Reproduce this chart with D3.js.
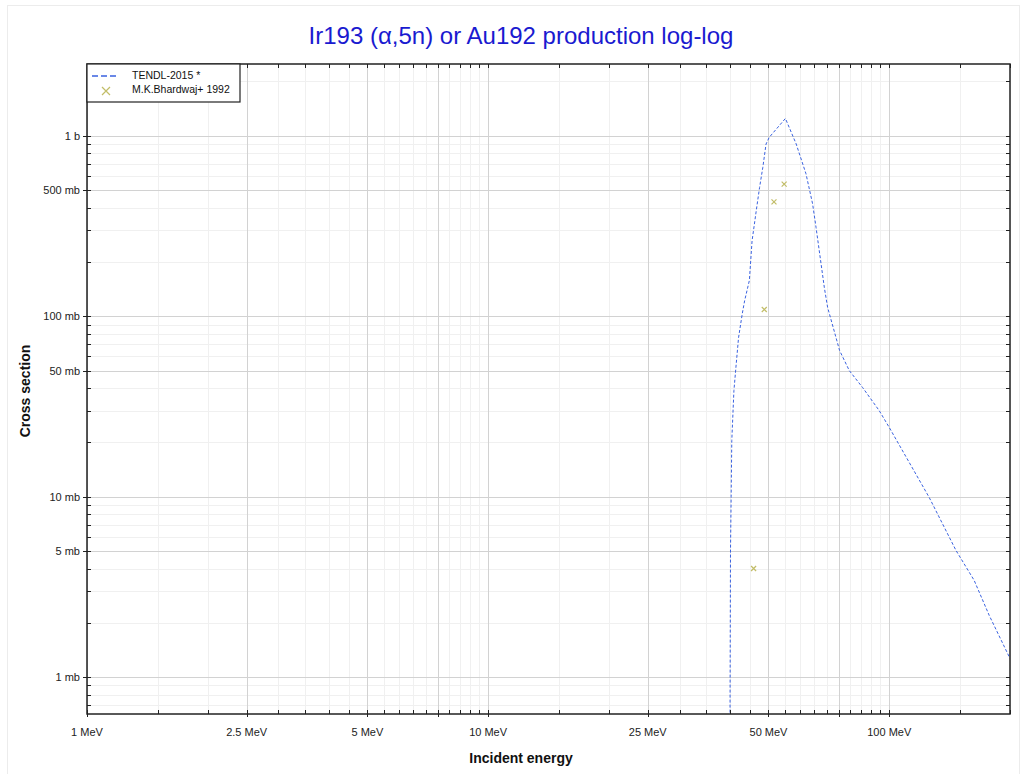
<!DOCTYPE html>
<html><head><meta charset="utf-8">
<script src="https://cdn.jsdelivr.net/npm/d3@7"></script>
<style>body{margin:0;background:#fff;} svg{display:block;font-family:"Liberation Sans",Arial,sans-serif;}</style>
</head><body>
<script>
// ---- data ----
const tendlEnergy = [40.0, 40.2, 40.35, 40.5, 41.0, 41.5, 42.1, 43.0, 43.6, 44.8, 45.5, 46.6, 47.5, 48.4, 49.3, 50.2, 55.1, 58.6, 62.0, 64.4, 65.7, 68.9, 70.2, 75.2, 79.5, 85.8, 94.4, 100, 125.8, 146.6, 162.8, 177.5, 200];
const tendlXs     = [0.1, 5.0, 10, 20.5, 38.8, 53, 76, 103, 122, 158, 262, 384, 517, 669, 900, 980, 1248, 902, 616, 420, 310, 144, 112, 64.6, 50, 40.3, 30, 24.2, 9.9, 5.05, 3.44, 2.2, 1.27];
const expEnergy = [45.9, 48.8, 51.6, 54.7];
const expXs     = [4.0, 109, 430, 540];
const xLabelTicks = [1, 2.5, 5, 10, 25, 50, 100];
const xMajorTicks = [1, 2.5, 5, 7.5, 10, 25, 50, 75, 100];
const yLabelTicks = [1, 5, 10, 50, 100, 500, 1000];
const seriesNames = ["TENDL-2015 *", "M.K.Bhardwaj+ 1992"];

const W = 1024, H = 774;
const L = 87, R = 1010, T = 64, B = 714;
const svg = d3.select("body").append("svg").attr("width", W).attr("height", H);

// outer faint border
svg.append("rect").attr("x", 7.5).attr("y", 5.5).attr("width", 1012).attr("height", 770)
  .attr("fill", "none").attr("stroke", "#ececec");

const x = d3.scaleLog().domain([1, 200]).range([L, R]);
const y = d3.scaleLog().domain([0.625, 2500]).range([B, T]);

// minor tick sets
const xMinor = [].concat(d3.range(1, 10, 0.5), d3.range(10, 100, 5), d3.range(100, 201, 50));
const yMinor = [];
[0.1, 1, 10, 100, 1000].forEach(d => { for (let k = 1; k <= 9; k++) { const v = d * k; if (v >= 0.625 && v <= 2500) yMinor.push(v); } });

// grid
const g = svg.append("g");
g.selectAll(".gxm").data(xMinor).join("line")
  .attr("x1", d => Math.round(x(d)) + 0.5).attr("x2", d => Math.round(x(d)) + 0.5)
  .attr("y1", T).attr("y2", B).attr("stroke", "#f0f0f0");
g.selectAll(".gym").data(yMinor).join("line")
  .attr("y1", d => Math.round(y(d)) + 0.5).attr("y2", d => Math.round(y(d)) + 0.5)
  .attr("x1", L).attr("x2", R).attr("stroke", "#f0f0f0");
g.selectAll(".gxM").data(xMajorTicks).join("line")
  .attr("x1", d => Math.round(x(d)) + 0.5).attr("x2", d => Math.round(x(d)) + 0.5)
  .attr("y1", T).attr("y2", B).attr("stroke", "#d2d2d2");
g.selectAll(".gyM").data(yLabelTicks).join("line")
  .attr("y1", d => Math.round(y(d)) + 0.5).attr("y2", d => Math.round(y(d)) + 0.5)
  .attr("x1", L).attr("x2", R).attr("stroke", "#d2d2d2");

// data
svg.append("defs").append("clipPath").attr("id", "clip")
  .append("rect").attr("x", L).attr("y", T).attr("width", R - L).attr("height", B - T);
const plot = svg.append("g").attr("clip-path", "url(#clip)");
const tendl = tendlEnergy.map((e, i) => [e, tendlXs[i]]);
plot.append("path").datum(tendl)
  .attr("d", d3.line().x(d => x(d[0])).y(d => y(d[1])))
  .attr("fill", "none").attr("stroke", "#3a62e0").attr("stroke-width", 1).attr("stroke-dasharray", "3,2");
const cross = (sel, s) => sel.attr("d", `M${-s},${-s}L${s},${s}M${-s},${s}L${s},${-s}`)
  .attr("stroke", "#c2bd68").attr("stroke-width", 1.2).attr("fill", "none");
plot.selectAll(".pt").data(expEnergy.map((e, i) => [e, expXs[i]])).join("path")
  .attr("transform", d => `translate(${x(d[0])},${y(d[1])})`).call(cross, 2.5);

// axes frame and ticks
const ax = svg.append("g").attr("stroke", "#222");
const isMajX = d => xMajorTicks.some(m => Math.abs(m - d) < 1e-9);
const isMajY = d => yLabelTicks.some(m => Math.abs(m - d) < 1e-9);
xMinor.forEach(d => {
  const px = Math.round(x(d)) + 0.5, maj = isMajX(d);
  ax.append("line").attr("x1", px).attr("x2", px).attr("y1", B + (maj ? 3 : 0)).attr("y2", B - 4);
  ax.append("line").attr("x1", px).attr("x2", px).attr("y1", T).attr("y2", T + 4);
});
yMinor.forEach(d => {
  const py = Math.round(y(d)) + 0.5, maj = isMajY(d);
  ax.append("line").attr("y1", py).attr("y2", py).attr("x1", L - (maj ? 4 : 0)).attr("x2", L + 4);
  ax.append("line").attr("y1", py).attr("y2", py).attr("x1", R).attr("x2", R - 4);
});
svg.append("rect").attr("x", L).attr("y", T).attr("width", R - L).attr("height", B - T)
  .attr("fill", "none").attr("stroke", "#222").attr("stroke-width", 1.5);

// tick labels
svg.selectAll(".xl").data(xLabelTicks).join("text")
  .attr("x", d => x(d)).attr("y", 736).attr("text-anchor", "middle")
  .attr("font-size", 11).attr("fill", "#222").text(d => d + " MeV");
svg.selectAll(".yl").data(yLabelTicks).join("text")
  .attr("x", 80).attr("y", d => y(d) + 4).attr("text-anchor", "end")
  .attr("font-size", 11).attr("fill", "#222").text(d => d >= 1000 ? (d / 1000) + " b" : d + " mb");

// titles
svg.append("text").attr("x", 521).attr("y", 44).attr("text-anchor", "middle")
  .attr("font-size", 24).attr("fill", "#1a1ad0").text("Ir193 (α,5n) or Au192 production log-log");
svg.append("text").attr("x", 521).attr("y", 763).attr("text-anchor", "middle")
  .attr("font-size", 14).attr("font-weight", "bold").attr("fill", "#111").text("Incident energy");
svg.append("text").attr("transform", "translate(30,391) rotate(-90)").attr("text-anchor", "middle")
  .attr("font-size", 14).attr("font-weight", "bold").attr("fill", "#111").text("Cross section");

// legend
const lg = svg.append("g");
lg.append("rect").attr("x", L).attr("y", T).attr("width", 153).attr("height", 38)
  .attr("fill", "#fff").attr("stroke", "#222").attr("stroke-width", 1.2);
lg.append("line").attr("x1", 92).attr("x2", 119).attr("y1", 76).attr("y2", 76)
  .attr("stroke", "#3a62e0").attr("stroke-width", 1.3).attr("stroke-dasharray", "6,3");
lg.append("path").attr("transform", "translate(106,91)").call(cross, 4);
lg.selectAll(".lt").data(seriesNames).join("text")
  .attr("x", 132).attr("y", (d, i) => 79 + i * 14).attr("font-size", 10.5).attr("fill", "#111").text(d => d);
</script>
</body></html>
